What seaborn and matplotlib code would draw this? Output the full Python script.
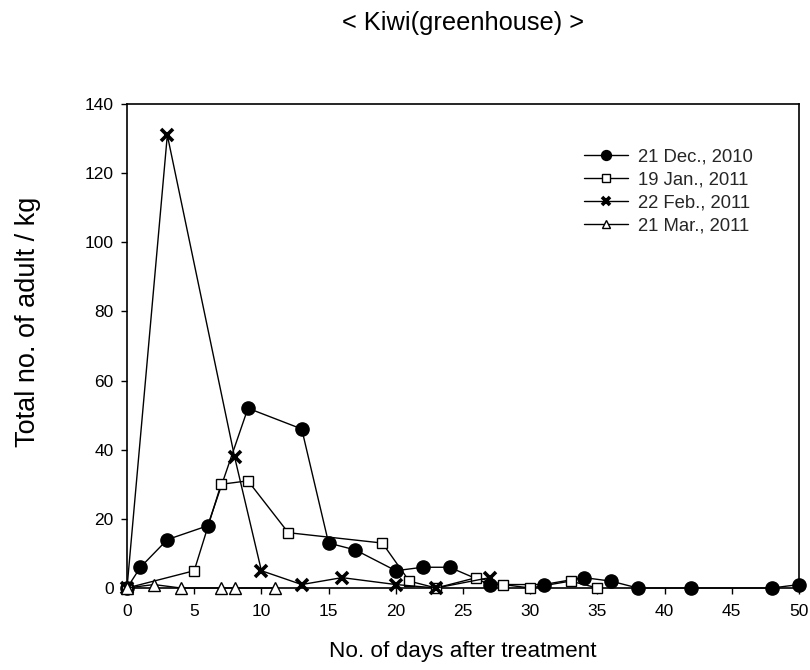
import matplotlib
matplotlib.use("Agg")
import matplotlib.pyplot as plt
import seaborn as sns
import pandas as pd

# Adult counts per kg after treatment, one series per treatment date
dec_days = [0, 1, 3, 6, 9, 13, 15, 17, 20, 22, 24, 27, 31, 34, 36, 38, 42, 48, 50]
dec_vals = [0, 6, 14, 18, 52, 46, 13, 11, 5, 6, 6, 1, 1, 3, 2, 0, 0, 0, 1]

jan_days = [0, 5, 7, 9, 12, 19, 21, 23, 26, 28, 30, 33, 35]
jan_vals = [0, 5, 30, 31, 16, 13, 2, 0, 3, 1, 0, 2, 0]

feb_days = [0, 3, 8, 10, 13, 16, 20, 23, 27]
feb_vals = [0, 131, 38, 5, 1, 3, 1, 0, 3]

mar_days = [0, 2, 4, 7, 8, 11]
mar_vals = [0, 1, 0, 0, 0, 0]

series_labels = ["21 Dec., 2010", "19 Jan., 2011", "22 Feb., 2011", "21 Mar., 2011"]
x_ticks = [0, 5, 10, 15, 20, 25, 30, 35, 40, 45, 50]
y_ticks = [0, 20, 40, 60, 80, 100, 120, 140]

sns.set_theme(style="ticks")
plt.rcParams["font.family"] = ["Liberation Sans", "DejaVu Sans"]

W, H = 810, 670
fig = plt.figure(figsize=(W / 100, H / 100), dpi=100)
ax = fig.add_axes([127 / W, 1 - 588 / H, (799 - 127) / W, (588 - 104) / H])

styles = [
    dict(marker="o", markersize=9.5, markerfacecolor="black", markeredgecolor="black", markeredgewidth=1),
    dict(marker="s", markersize=7.5, markerfacecolor="white", markeredgecolor="black", markeredgewidth=1),
    dict(marker="x", markersize=8, markeredgecolor="black", markeredgewidth=2.6),
    dict(marker="^", markersize=8.5, markerfacecolor="white", markeredgecolor="black", markeredgewidth=1),
]
data = [(dec_days, dec_vals), (jan_days, jan_vals), (feb_days, feb_vals), (mar_days, mar_vals)]

for (days, vals), label, st in zip(data, series_labels, styles):
    df = pd.DataFrame({"day": days, "count": vals})
    sns.lineplot(data=df, x="day", y="count", ax=ax, color="black", linewidth=1,
                 label=label, clip_on=False, zorder=3, **st)

ax.set_xlim(0, 50)
ax.set_ylim(0, 140)
ax.set_xticks(x_ticks)
ax.set_yticks(y_ticks)
ax.tick_params(axis="both", direction="out", length=4.5, width=1, color="black",
               labelsize=12.5, labelcolor="black")
ax.tick_params(axis="x", pad=7)
ax.tick_params(axis="y", pad=5)
for s in ax.spines.values():
    s.set_color("black")
    s.set_linewidth(1.2)

ax.set_xlabel("")
ax.set_ylabel("")
fig.text(463 / W, 1 - 651 / H, "No. of days after treatment", ha="center", va="center",
         fontsize=16.2, color="black")
fig.text(28 / W, 1 - 322 / H, "Total no. of adult / kg", ha="center", va="center",
         rotation=90, fontsize=19.5, color="black")
fig.text(463 / W, 1 - 30 / H, "< Kiwi(greenhouse) >", ha="center", va="baseline",
         fontsize=18.3, color="black")

ax.legend(loc="upper left", bbox_to_anchor=(584 / W, 1 - 148 / H), bbox_transform=fig.transFigure,
          frameon=False, fontsize=13.3, borderpad=0, borderaxespad=0,
          handlelength=2.4, markerscale=0.75, labelspacing=0.33, handletextpad=0.55)

fig.savefig("out.png", dpi=100)
